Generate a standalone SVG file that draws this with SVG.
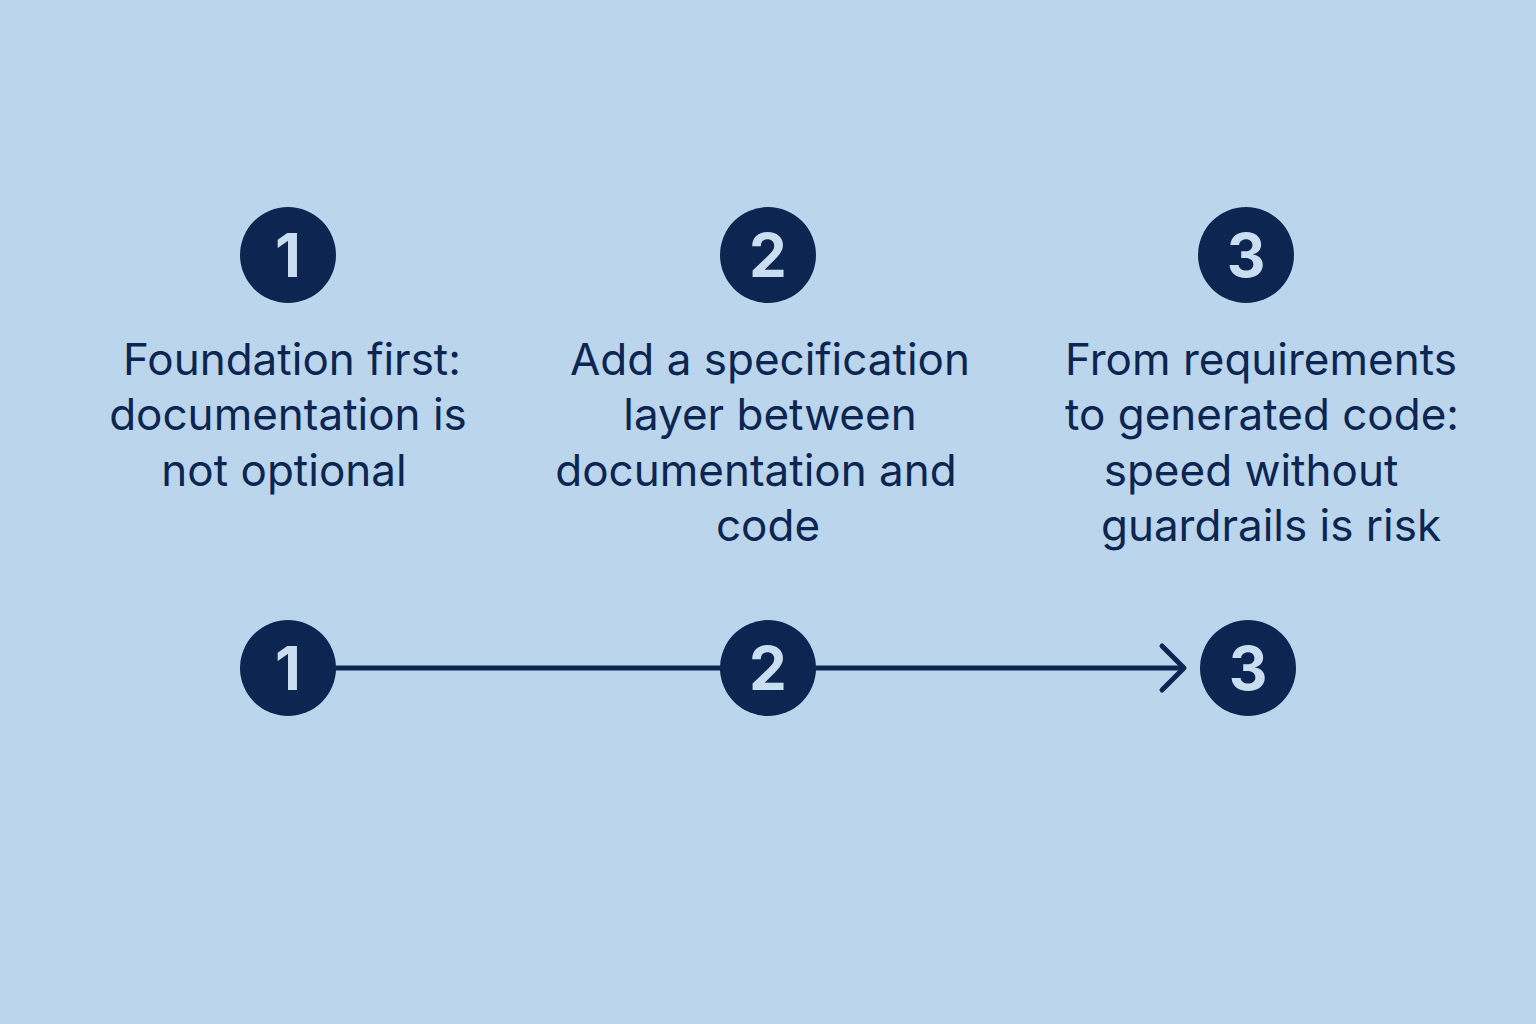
<svg xmlns="http://www.w3.org/2000/svg" width="1536" height="1024" viewBox="0 0 1536 1024">
<style>
.c{fill:#0D2551}
.n{font-family:"Inter","Liberation Sans",sans-serif;font-weight:700;font-size:60px;fill:#C9DEF0;text-anchor:middle}
.t{font-family:"Inter","Liberation Sans",sans-serif;font-size:44px;fill:#0D2551;text-anchor:middle}
</style>
<rect width="1536" height="1024" fill="#BBD6EC"/>
<g id="connectors" stroke="#0D2551" stroke-width="5" fill="none">
<line x1="330" y1="668" x2="725" y2="668"/>
<line x1="812" y1="668" x2="1184" y2="668"/>
<polyline points="1162,646 1184,668 1162,690" stroke-linecap="round" stroke-linejoin="round"/>
</g>
<g id="step1"><circle class="c" cx="288" cy="255" r="48"/><text class="n" x="288" y="277">1</text>
<text class="t" x="292" y="375">Foundation first:</text><text class="t" x="288" y="430">documentation is</text><text class="t" x="284" y="486">not optional</text></g>
<g id="step2"><circle class="c" cx="768" cy="255" r="48"/><text class="n" x="768" y="277">2</text>
<text class="t" x="770" y="375">Add a specification</text><text class="t" x="770" y="430">layer between</text><text class="t" x="756" y="486">documentation and</text><text class="t" x="768" y="541">code</text></g>
<g id="step3"><circle class="c" cx="1246" cy="255" r="48"/><text class="n" x="1246" y="277">3</text>
<text class="t" x="1261" y="375">From requirements</text><text class="t" x="1262" y="430">to generated code:</text><text class="t" x="1251" y="486">speed without</text><text class="t" x="1271" y="541">guardrails is risk</text></g>
<g id="b1"><circle class="c" cx="288" cy="668" r="48"/><text class="n" x="288" y="690">1</text></g>
<g id="b2"><circle class="c" cx="768" cy="668" r="48"/><text class="n" x="768" y="690">2</text></g>
<g id="b3"><circle class="c" cx="1248" cy="668" r="48"/><text class="n" x="1248" y="690">3</text></g>
</svg>
